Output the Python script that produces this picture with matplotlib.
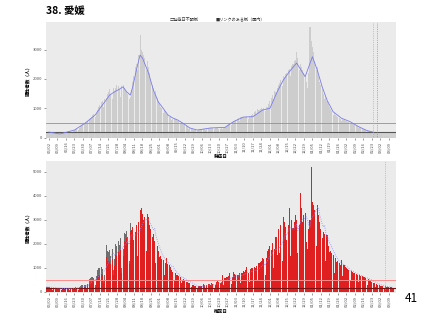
import pandas as pd
import matplotlib.pyplot as plt
import matplotlib.dates as mdates
import numpy as np

plt.rcParams['font.family'] = ['Noto Sans CJK JP', 'DejaVu Sans']

## Daily data starting 2022-05-31, one row per week
start = pd.Timestamp('2022-05-31')

onset = [
    200, 190, 180, 185, 175, 160, 170,
    150, 140, 130, 135, 125, 110, 120,
    130, 140, 150, 160, 150, 130, 170,
    200, 230, 250, 270, 280, 250, 320,
    380, 420, 460, 500, 520, 470, 560,
    620, 680, 720, 760, 800, 700, 850,
    950, 1050, 1100, 1200, 1250, 1050, 1300,
    1350, 1500, 1550, 1650, 1500, 1300, 1700,
    1600, 1700, 1800, 1750, 1650, 1400, 1750,
    1800, 1700, 1600, 1550, 1500, 1300, 1400,
    1600, 1900, 2100, 2400, 2500, 2300, 2800,
    3490, 3000, 2900, 2800, 2700, 2300, 2600,
    2400, 2200, 2000, 1800, 1700, 1500, 1600,
    1350, 1250, 1150, 1050, 1000, 850, 950,
    880, 820, 780, 720, 700, 600, 650,
    640, 620, 600, 580, 560, 480, 530,
    480, 450, 420, 380, 360, 300, 340,
    310, 290, 270, 260, 250, 220, 260,
    270, 280, 290, 300, 300, 260, 310,
    330, 340, 330, 320, 330, 280, 340,
    330, 320, 310, 300, 320, 280, 330,
    360, 390, 420, 450, 480, 420, 520,
    550, 580, 610, 640, 660, 580, 700,
    700, 710, 720, 700, 730, 640, 740,
    720, 760, 820, 880, 920, 820, 980,
    950, 980, 1000, 990, 1020, 900, 1050,
    1050, 1150, 1250, 1350, 1450, 1300, 1600,
    1550, 1700, 1800, 1850, 1950, 1750, 2100,
    2050, 2150, 2200, 2300, 2350, 2100, 2450,
    2500, 2600, 2650, 2925, 2700, 2300, 2500,
    2400, 2300, 2200, 2100, 1900, 1700, 2200,
    3770, 3300, 3100, 2900, 2600, 2300, 2400,
    2100, 1900, 1800, 1650, 1500, 1300, 1400,
    1250, 1150, 1050, 980, 900, 780, 850,
    780, 740, 700, 680, 650, 560, 620,
    600, 580, 560, 540, 530, 450, 500,
    470, 450, 420, 400, 380, 320, 360,
    330, 310, 290, 270, 250, 210, 240,
    220, 200, 190, 180, 170, 140, 160,
    120, 110, 100, 90, 80, 60, 70,
    60, 50, 40, 30, 20, 10, 5,
]

# smoothed onset curve (day offset, value)
curve_day = [2, 11, 23, 32, 40, 44, 48, 52, 56, 60, 63, 66, 69, 71, 74, 77, 79, 84,
             88, 92, 96, 100, 104, 108, 112, 118, 124, 129, 135, 147, 154, 162, 170,
             178, 184, 190, 195, 200, 206, 213, 219, 223, 227, 231, 236, 243, 250,
             257, 264, 269]
curve_val = [190, 125, 260, 500, 770, 1000, 1220, 1450, 1560, 1650, 1730, 1560, 1450,
             1730, 2300, 2810, 2710, 2200, 1620, 1220, 1000, 770, 670, 600, 500, 330,
             260, 290, 330, 350, 545, 700, 715, 940, 1000, 1560, 1960, 2245, 2540,
             2075, 2755, 2300, 1735, 1280, 885, 660, 545, 375, 240, 190]

confirmed = [
    210, 190, 200, 180, 170, 90, 180,
    170, 160, 150, 170, 140, 80, 150,
    160, 150, 140, 160, 150, 70, 140,
    170, 180, 170, 190, 160, 90, 200,
    260, 280, 300, 290, 270, 140, 330,
    520, 560, 600, 620, 580, 300, 640,
    900, 1000, 980, 1050, 960, 500, 700,
    1950, 1700, 1650, 1750, 1500, 1800, 900,
    1370, 2000, 1900, 2100, 1950, 2220, 1000,
    1800, 2450, 2400, 2550, 2300, 1300, 2850,
    2590, 2700, 2160, 2500, 2780, 1500, 2900,
    3400, 3500, 3250, 3000, 3100, 1700, 3250,
    3100, 2780, 2600, 2300, 2400, 2100, 1200,
    1890, 1700, 1460, 1500, 1350, 1320, 700,
    1200, 1390, 1150, 1100, 1040, 900, 830,
    450, 800, 700, 720, 650, 625, 350,
    490, 520, 470, 430, 420, 380, 350,
    200, 300, 280, 260, 240, 130, 240,
    240, 260, 250, 320, 280, 150, 290,
    330, 340, 300, 350, 320, 180, 300,
    420, 440, 400, 380, 420, 700, 300,
    560, 600, 620, 650, 765, 320, 600,
    830, 760, 700, 720, 680, 765, 380,
    800, 850, 820, 900, 1040, 780, 420,
    950, 1000, 980, 1020, 1000, 1070, 500,
    1200, 1250, 1300, 1390, 1350, 700, 1400,
    1700, 1800, 1900, 1750, 2015, 1000, 1800,
    2300, 1530, 2600, 1600, 2800, 1300, 3125,
    2900, 2700, 2160, 2800, 3470, 1500, 3000,
    2640, 2900, 3200, 3000, 1600, 2800, 4100,
    3500, 2917, 3200, 3300, 2080, 1800, 2600,
    3000, 5200, 3750, 3600, 3400, 1900, 3600,
    3200, 2900, 2600, 2220, 2500, 2400, 1300,
    2360, 1900, 1670, 1700, 1600, 1530, 800,
    1400, 1250, 1300, 1200, 1100, 1320, 650,
    1100, 1040, 1000, 970, 900, 500, 850,
    830, 800, 780, 760, 720, 400, 690,
    650, 640, 600, 625, 580, 300, 555,
    480, 450, 420, 380, 350, 200, 340,
    300, 280, 260, 250, 230, 120, 240,
    220, 210, 200, 208, 190, 100, 180,
]

# unknown-route part stacked on top (first weeks only)
unknown_part = [
    40, 40, 40, 40, 40, 20, 40,
    40, 40, 30, 40, 30, 20, 30,
    40, 30, 30, 40, 30, 20, 30,
    50, 50, 40, 50, 40, 20, 50,
    80, 90, 90, 90, 80, 40, 100,
    150, 160, 180, 180, 170, 90, 190,
    250, 280, 280, 300, 270, 150, 200,
    500, 400, 380, 420, 350, 420, 200,
    300, 450, 420, 460, 420, 450, 200,
    300, 350, 320, 330, 280, 150, 300,
]
unknown_part = unknown_part + [0] * (len(confirmed) - len(unknown_part))

days = pd.date_range(start, periods=len(confirmed), freq='D')
df = pd.DataFrame({'onset': onset, 'confirmed': confirmed, 'unknown': unknown_part}, index=days)
df['known'] = df['confirmed'] - df['unknown']
df['ma7'] = df['confirmed'].rolling(7, min_periods=1).mean()
curve_dates = [start + pd.Timedelta(days=d) for d in curve_day]

tick_dates = pd.date_range('2022-06-02', '2023-03-09', freq='7D')
xmin = mdates.date2num(start) - 0.47
xmax = mdates.date2num(start) + 287.6

fig = plt.figure(figsize=(4.27, 3.2), dpi=100)
ax1 = fig.add_axes([0.1077, 0.568, 0.819, 0.364])
ax2 = fig.add_axes([0.1077, 0.085, 0.819, 0.412])

for ax in (ax1, ax2):
    ax.set_facecolor('#ebebeb')
    for s in ax.spines.values():
        s.set_visible(False)
    ax.set_xlim(xmin, xmax)
    ax.set_xticks(mdates.date2num(tick_dates))
    ax.set_xticklabels([d.strftime('%m/%d') for d in tick_dates], rotation=90)
    ax.tick_params(labelsize=3, colors='#4d4d4d', length=1.5, width=0.4, pad=1)
    ax.set_ylabel('陽性者数（人）', fontsize=3.3, fontweight='bold', labelpad=2)

## Top panel: onset date
ax1.axhspan(-20, 190, color='#d2d2d2', lw=0, zorder=0.5)
ax1.bar(df.index, df['onset'], width=0.85, color='#cdcdcd', lw=0, zorder=1)
ax1.plot(curve_dates, curve_val, color='#7b7bea', lw=0.6, zorder=3)
ax1.axhline(500, color='#e07070', lw=0.6, zorder=2)
ax1.axhline(190, color='#555555', lw=0.8, zorder=2)
ax1.axvline(mdates.date2num(pd.Timestamp('2023-02-24')), color='#e08080', lw=0.5, ls=':', zorder=4)
ax1.axvline(mdates.date2num(pd.Timestamp('2023-02-27')), color='#777777', lw=0.5, ls=':', zorder=4)
ax1.set_ylim(-20, 3945)
ax1.set_yticks([0, 1000, 2000, 3000])
ax1.set_xlabel('発症日', fontsize=3.3, fontweight='bold', labelpad=1)

## Bottom panel: confirmation date
ax2.bar(df.index, df['known'], width=0.85, color='#e02020', lw=0, zorder=1)
ax2.bar(df.index, df['unknown'], bottom=df['known'], width=0.85, color='#6e6e6e', lw=0, zorder=1)
ax2.plot(df.index, df['ma7'], color='#8c8cff', lw=0.6, ls=':', zorder=3)
ax2.axhline(500, color='#ff8c8c', lw=0.7, zorder=2)
ax2.axhline(170, color='#7a1414', lw=0.8, zorder=2)
ax2.axvline(mdates.date2num(pd.Timestamp('2023-03-06')), color='#e08080', lw=0.5, ls=':', zorder=4)
ax2.set_ylim(-40, 5446)
ax2.set_yticks([0, 1000, 2000, 3000, 4000, 5000])
ax2.set_xlabel('確定日', fontsize=3.3, fontweight='bold', labelpad=1)

## Title, legend and page number
fig.text(0.107, 0.965, '38. 愛媛', fontsize=7.5, fontweight='bold', va='center', ha='left')
fig.text(0.397, 0.94, '□発症日不明例', fontsize=3, va='center', ha='left', color='#333333')
fig.text(0.505, 0.94, '■リンクのある例（国内）', fontsize=3, va='center', ha='left', color='#333333')
fig.text(0.978, 0.068, '41', fontsize=8.5, va='center', ha='right')

fig.savefig('out.png', dpi=100)
